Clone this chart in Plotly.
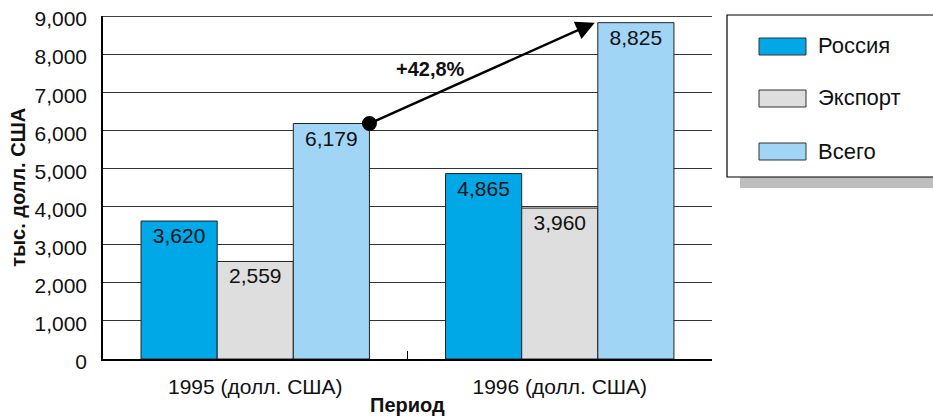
import plotly.graph_objects as go

# Periods and series values (тыс. долл. США)
periods = ["1995 (долл. США)", "1996 (долл. США)"]
series_names = ["Россия", "Экспорт", "Всего"]
russia = [3620, 4865]
export = [2559, 3960]
total = [6179, 8825]
y_ticks = [0, 1000, 2000, 3000, 4000, 5000, 6000, 7000, 8000, 9000]
y_tick_labels = ["0", "1,000", "2,000", "3,000", "4,000", "5,000", "6,000", "7,000", "8,000", "9,000"]

colors = ["#00A8E8", "#DEDEDE", "#A0D5F5"]
values = [russia, export, total]

FONT = "Liberation Sans, Arial, sans-serif"
TXT = "#111111"

fig = go.Figure()
for name, vals, col in zip(series_names, values, colors):
    fig.add_trace(go.Bar(
        x=periods, y=vals, name=name,
        marker=dict(color=col, line=dict(color="#222222", width=1)),
        text=[f"{v:,}" for v in vals],
        textposition="inside", insidetextanchor="end",
        textfont=dict(family=FONT, size=21, color=TXT),
        textangle=0, showlegend=False,
    ))

# growth arrow between the two "Всего" bars
n = len(series_names)
bar_w = 0.75 / n
start_x = 0.375                # right edge of the 1995 total bar
end_x = 1 - 0.375 + 2 * bar_w  # left edge of the 1996 total bar
growth = (total[1] / total[0] - 1) * 100

fig.add_annotation(
    x=end_x - 0.01, y=total[1], xref="x", yref="y",
    ax=start_x, ay=total[0], axref="x", ayref="y",
    showarrow=True, arrowhead=2, arrowsize=1.5, arrowwidth=2.5, arrowcolor="#000000",
    text="",
)
fig.add_shape(type="circle", xref="x", yref="y",
              xsizemode="pixel", ysizemode="pixel",
              xanchor=start_x, yanchor=total[0],
              x0=-7.5, x1=7.5, y0=-7.5, y1=7.5,
              fillcolor="#000000", line=dict(color="#000000", width=0), layer="above")
fig.add_annotation(
    x=0.575, y=7600, xref="x", yref="y",
    text=f"<b>+{growth:.1f}%</b>".replace(".", ","), showarrow=False,
    font=dict(family=FONT, size=20, color=TXT),
)

fig.update_layout(
    width=933, height=417,
    margin=dict(l=103, r=221, t=16, b=58, autoexpand=False),
    paper_bgcolor="white", plot_bgcolor="white",
    barmode="group", bargap=0.25, bargroupgap=0,
    font=dict(family=FONT, size=21, color=TXT),
    xaxis=dict(
        type="category", range=[-0.5, 1.5], automargin=False,
        showline=True, linecolor="#000000", linewidth=1.5,
        ticks="inside", tickson="boundaries", ticklen=8, tickcolor="#000000",
        ticklabelstandoff=8, tickfont=dict(family=FONT, size=21, color=TXT),
        showgrid=False,
    ),
    yaxis=dict(
        range=[0, 9000], tickvals=y_ticks, ticktext=y_tick_labels, automargin=False,
        showline=True, linecolor="#000000", linewidth=1.5,
        showgrid=True, gridcolor="#333333", gridwidth=1,
        ticks="", ticklabelstandoff=10, ticklabelshift=3,
        tickfont=dict(family=FONT, size=21, color=TXT),
        zeroline=False,
    ),
)

# top border line at 9,000
fig.add_shape(type="line", xref="paper", yref="y", x0=0, x1=1, y0=9000, y1=9000,
              line=dict(color="#000000", width=1.5))

# axis titles
fig.add_annotation(xref="paper", yref="paper", x=-0.162, y=0.5, textangle=-90,
                   text="<b>тыс. долл. США</b>", showarrow=False,
                   font=dict(family=FONT, size=20, color=TXT))
fig.add_annotation(xref="paper", yref="paper", x=0.5, y=-0.135, yanchor="middle",
                   text="<b>Период</b>", showarrow=False,
                   font=dict(family=FONT, size=20, color=TXT))

# legend box with drop shadow
W, H = 933, 417
pl, pr, pt, pb = 103, 221, 16, 58
pw, ph = W - pl - pr, H - pt - pb


def px_to_paper(x, y):
    return (x - pl) / pw, 1 - (y - pt) / ph


lx0, lx1 = 727, 933
ly0, ly1 = 15, 177
sx0, sy0 = px_to_paper(lx0 + 13, ly0 + 11)
sx1, sy1 = px_to_paper(lx1 + 20, ly1 + 11)
fig.add_shape(type="rect", xref="paper", yref="paper", x0=sx0, y0=sy0, x1=sx1, y1=sy1,
              fillcolor="#BEBEBE", line=dict(width=0), layer="above")
bx0, by0 = px_to_paper(lx0, ly0)
bx1, by1 = px_to_paper(lx1 + 20, ly1)
fig.add_shape(type="rect", xref="paper", yref="paper", x0=bx0, y0=by0, x1=bx1, y1=by1,
              fillcolor="white", line=dict(color="#000000", width=1.2), layer="above")

row_y = [46, 98, 151]
for name, col, ry in zip(series_names, colors, row_y):
    ax0, ay0 = px_to_paper(759, ry - 8)
    ax1, ay1 = px_to_paper(806, ry + 9)
    fig.add_shape(type="rect", xref="paper", yref="paper", x0=ax0, y0=ay0, x1=ax1, y1=ay1,
                  fillcolor=col, line=dict(color="#333333", width=1), layer="above")
    tx, ty = px_to_paper(816, ry)
    fig.add_annotation(xref="paper", yref="paper", x=tx, y=ty, xanchor="left", yanchor="middle",
                       text=name, showarrow=False,
                       font=dict(family=FONT, size=22, color=TXT))

fig.write_html("out.html")
